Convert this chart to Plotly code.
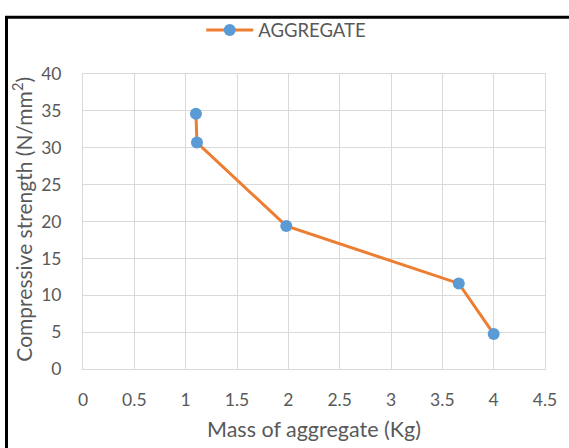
import plotly.graph_objects as go

# Data
mass_kg = [1.10, 1.11, 1.98, 3.66, 4.00]
strength = [34.6, 30.7, 19.4, 11.6, 4.75]

x_tickvals = [0, 0.5, 1, 1.5, 2, 2.5, 3, 3.5, 4, 4.5]
x_ticktext = ["0", "0.5", "1", "1.5", "2", "2.5", "3", "3.5", "4", "4.5"]
y_tickvals = [0, 5, 10, 15, 20, 25, 30, 35, 40]

series_name = "AGGREGATE"
x_title = "Mass of aggregate (Kg)"
y_title = "Compressive strength (N/mm<sup>2</sup>)"

FONT = "Lato, Open Sans, sans-serif"
TXT = "#595959"
GRID = "#d9d9d9"

fig = go.Figure()
fig.add_trace(go.Scatter(
    x=mass_kg, y=strength, mode="lines+markers", name=series_name,
    line=dict(color="#ED7D31", width=3),
    marker=dict(color="#5B9BD5", size=12, line=dict(width=0)),
    showlegend=True,
))

W, H = 569, 448
L, R, T, B = 83, 21, 67.5, 79
pw, ph = W - L - R, H - T - B

def px2paper_x(px):
    return (px - L) / pw

def px2paper_y(py):
    return (H - B - py) / ph

fig.update_layout(
    width=W, height=H,
    margin=dict(l=L, r=R, t=T, b=B, pad=0),
    paper_bgcolor="white", plot_bgcolor="white",
    font=dict(family=FONT, color=TXT, size=17),
    showlegend=True,
    legend=dict(
        orientation="h", x=px2paper_x(202), xanchor="left",
        y=px2paper_y(23), yanchor="middle",
        font=dict(size=18.5, color=TXT, family=FONT),
        itemwidth=47, bgcolor="rgba(0,0,0,0)",
    ),
    xaxis=dict(
        range=[0, 4.5], tickvals=x_tickvals, ticktext=x_ticktext,
        showgrid=True, gridcolor=GRID, gridwidth=1,
        showline=True, linecolor=GRID, linewidth=1, mirror=True,
        zeroline=False,
        ticks="outside", ticklen=15, tickcolor="rgba(0,0,0,0)",
        tickfont=dict(size=17.5, color=TXT, family=FONT),
        fixedrange=True,
    ),
    yaxis=dict(
        range=[0, 40], tickvals=y_tickvals,
        showgrid=True, gridcolor=GRID, gridwidth=1,
        showline=True, linecolor=GRID, linewidth=1, mirror=True,
        zeroline=False,
        ticks="outside", ticklen=17, tickcolor="rgba(0,0,0,0)",
        tickfont=dict(size=17.5, color=TXT, family=FONT),
        fixedrange=True,
    ),
    annotations=[
        dict(text=x_title, xref="paper", yref="paper",
             x=0.5, y=px2paper_y(430), xanchor="center", yanchor="middle",
             showarrow=False, font=dict(size=21.5, color=TXT, family=FONT)),
        dict(text=y_title, xref="paper", yref="paper",
             x=px2paper_x(22), y=px2paper_y(216), xanchor="center", yanchor="middle",
             textangle=-90, showarrow=False,
             font=dict(size=21, color=TXT, family=FONT)),
    ],
    shapes=[dict(
        type="rect", xref="paper", yref="paper",
        x0=px2paper_x(6), x1=px2paper_x(700),
        y0=px2paper_y(700), y1=px2paper_y(9.5),
        line=dict(color="black", width=3), fillcolor="rgba(0,0,0,0)",
        layer="above",
    )],
)

fig.write_html("out.html")
